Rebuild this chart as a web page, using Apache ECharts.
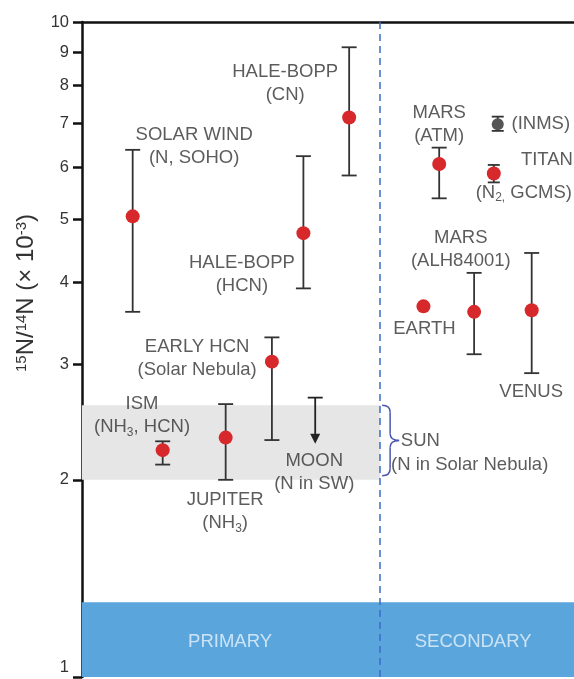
<!DOCTYPE html>
<html><head><meta charset="utf-8">
<script src="https://cdn.jsdelivr.net/npm/echarts@6/dist/echarts.min.js"></script>
<style>html,body{margin:0;padding:0;background:#fff}#c{width:574px;height:679px}</style>
</head><body><div id="c"></div>
<script>
const FONT = '"Liberation Sans", Arial, sans-serif';

// Red data points (15N/14N x 10^-3)
const pointNames = ['SOLAR WIND','ISM','JUPITER','EARLY HCN','HALE-BOPP (HCN)','HALE-BOPP (CN)','EARTH','MARS (ATM)','MARS (ALH84001)','VENUS'];
const pointX     = [10.3, 16.4, 29.2, 38.6, 45.0, 54.3, 69.4, 72.6, 79.7, 91.4];
const pointValue = [5.05, 2.22, 2.32, 3.03, 4.76, 7.15, 3.68, 6.07, 3.61, 3.63];
const errLow     = [3.61, 2.11, 2.00, 2.30, 3.92, 5.83, null, 5.38, 3.11, 2.91];
const errHigh    = [6.38, 2.29, 2.61, 3.30, 6.24, 9.15, null, 6.43, 4.14, 4.44];

// Titan: GCMS (red) and INMS (grey)
const titanGcmsX = [83.7];
const titanGcmsValue = [5.87];
const titanGcmsLow = [5.69];
const titanGcmsHigh = [6.05];
const titanInmsX = [84.5];
const titanInmsValue = [6.98];
const titanInmsLow = [6.82];
const titanInmsHigh = [7.17];

// Moon upper limit (arrow)
const moonX = [47.4];
const moonUpper = [2.67];
const moonArrowTo = [2.27];

// Regions
const sunRange = [2.0, 2.6];
const baseBand = [1.0, 1.3];
const dividerX = 60.6;
const braceX = 61.0;
const yTicks = [1, 2, 3, 4, 5, 6, 7, 8, 9, 10];

// Annotation texts: [text, x, y, align]
const annotations = [
  ['SOLAR WIND\n(N, SOHO)', 22.8, 6.45, 'center'],
  ['HALE-BOPP\n(CN)', 41.3, 8.05, 'center'],
  ['HALE-BOPP\n(HCN)', 32.5, 4.12, 'center'],
  ['EARLY HCN\n(Solar Nebula)', 23.4, 3.07, 'center'],
  ['ISM\n(NH{sub|3}, HCN)', 12.2, 2.51, 'center'],
  ['JUPITER\n(NH{sub|3})', 29.1, 1.79, 'center'],
  ['MOON\n(N in SW)', 47.2, 2.05, 'center'],
  ['SUN', 64.8, 2.29, 'left'],
  ['(N in Solar Nebula)', 62.8, 2.11, 'left'],
  ['MARS\n(ATM)', 72.6, 6.98, 'center'],
  ['(INMS)', 87.3, 6.98, 'left'],
  ['TITAN', 94.5, 6.15, 'center'],
  ['(N{sub|2,} GCMS)', 89.8, 5.49, 'center'],
  ['MARS\n(ALH84001)', 77.0, 4.50, 'center'],
  ['EARTH', 69.6, 3.40, 'center'],
  ['VENUS', 91.3, 2.72, 'center']
];
const bandLabels = [['PRIMARY', 30.1, 1.13], ['SECONDARY', 79.5, 1.13]];

const TXT = '#333';
const RED = '#d7282c';
const sub = { fontSize: 12, fontFamily: FONT, color: TXT, verticalAlign: 'bottom', lineHeight: 23 };

function makeErrRender(capHalf, lw) {
  return function (params, api) {
    const x = api.value(0), lo = api.value(1), hi = api.value(2);
    const pLo = api.coord([x, lo]), pHi = api.coord([x, hi]);
    const st = { stroke: '#333', lineWidth: lw };
    return { type: 'group', children: [
      { type: 'line', shape: { x1: pLo[0], y1: pLo[1], x2: pHi[0], y2: pHi[1] }, style: st },
      { type: 'line', shape: { x1: pLo[0] - capHalf, y1: pLo[1], x2: pLo[0] + capHalf, y2: pLo[1] }, style: st },
      { type: 'line', shape: { x1: pHi[0] - capHalf, y1: pHi[1], x2: pHi[0] + capHalf, y2: pHi[1] }, style: st }
    ]};
  };
}

function moonRender(params, api) {
  const x = api.value(0), up = api.value(1), to = api.value(2);
  const pUp = api.coord([x, up]), pTo = api.coord([x, to]);
  const w = 7.5;
  const st = { stroke: '#222', lineWidth: 1.8 };
  return { type: 'group', children: [
    { type: 'line', shape: { x1: pUp[0], y1: pUp[1], x2: pTo[0], y2: pTo[1] - 8 }, style: st },
    { type: 'line', shape: { x1: pUp[0] - w, y1: pUp[1], x2: pUp[0] + w, y2: pUp[1] }, style: st },
    { type: 'polygon', shape: { points: [[pTo[0] - 5, pTo[1] - 10], [pTo[0] + 5, pTo[1] - 10], [pTo[0], pTo[1]]] }, style: { fill: '#222' } }
  ]};
}

function braceRender(params, api) {
  const x = api.value(0), lo = api.value(1), hi = api.value(2);
  const pLo = api.coord([x, lo]), pHi = api.coord([x, hi]);
  const xL = pLo[0], xM = xL + 8, xR = xL + 17;
  const yT = pHi[1], yB = pLo[1] - 4, yM = (yT + yB) / 2, r = 7;
  const st = { stroke: '#4a56b0', lineWidth: 1.5, fill: 'none' };
  return { type: 'group', children: [
    { type: 'bezierCurve', shape: { x1: xL, y1: yT, cpx1: xM, cpy1: yT, x2: xM, y2: yT + r }, style: st },
    { type: 'line', shape: { x1: xM, y1: yT + r, x2: xM, y2: yM - r }, style: st },
    { type: 'bezierCurve', shape: { x1: xM, y1: yM - r, cpx1: xM, cpy1: yM, x2: xR, y2: yM }, style: st },
    { type: 'bezierCurve', shape: { x1: xR, y1: yM, cpx1: xM, cpy1: yM, x2: xM, y2: yM + r }, style: st },
    { type: 'line', shape: { x1: xM, y1: yM + r, x2: xM, y2: yB - r }, style: st },
    { type: 'bezierCurve', shape: { x1: xM, y1: yB - r, cpx1: xM, cpy1: yB, x2: xL, y2: yB }, style: st }
  ]};
}

const errData = [];
pointX.forEach((x, i) => { if (errLow[i] != null) errData.push([x, errLow[i], errHigh[i]]); });
const titanErrData = [];
titanGcmsX.forEach((x, i) => titanErrData.push([x, titanGcmsLow[i], titanGcmsHigh[i]]));
titanInmsX.forEach((x, i) => titanErrData.push([x, titanInmsLow[i], titanInmsHigh[i]]));

const annData = annotations.map(a => ({
  value: [a[1], a[2]],
  label: {
    show: true,
    formatter: a[0],
    position: a[3] === 'left' ? 'right' : 'inside',
    distance: 0,
    align: a[3] === 'left' ? 'left' : 'center',
    verticalAlign: 'middle'
  }
}));

const option = {
  animation: false,
  backgroundColor: '#fff',
  grid: { left: 82, right: 0, top: 22, bottom: 2, containLabel: false },
  xAxis: {
    type: 'value', min: 0, max: 100, position: 'top',
    axisLine: { show: true, onZero: false, lineStyle: { color: '#111', width: 2.5 } },
    axisTick: { show: false }, axisLabel: { show: false }, splitLine: { show: false }
  },
  yAxis: {
    type: 'log', logBase: 10, min: 1, max: 10,
    axisLine: { show: true, lineStyle: { color: '#111', width: 2.5 } },
    axisTick: { show: true, inside: false, length: 9, customValues: yTicks, lineStyle: { color: '#111', width: 2.5 } },
    axisLabel: {
      customValues: yTicks, fontSize: 16.5, fontFamily: FONT, color: TXT, margin: 13,
      formatter: v => (Math.abs(v - 1) < 1e-9 ? '{a|1}' : String(Math.round(v))),
      rich: { a: { fontSize: 16.5, fontFamily: FONT, color: TXT, padding: [0, 0, 20, 0] } }
    },
    splitLine: { show: false }
  },
  graphic: [{
    type: 'text', x: 26, y: 293, rotation: Math.PI / 2,
    style: {
      text: '{s|15}N/{s|14}N (× 10{s|-3})',
      fontSize: 24, fontFamily: FONT, fill: TXT, align: 'center', verticalAlign: 'middle',
      rich: { s: { fontSize: 15, fontFamily: FONT, fill: TXT, verticalAlign: 'top' } }
    }
  }],
  series: [
    {
      type: 'line', data: [], silent: true, z: 1,
      markArea: {
        silent: true,
        data: [
          [{ xAxis: 0, yAxis: sunRange[0], itemStyle: { color: '#e6e6e6' } }, { xAxis: dividerX, yAxis: sunRange[1] }],
          [{ xAxis: 0, yAxis: baseBand[0], itemStyle: { color: '#5aa6dc' } }, { xAxis: 100, yAxis: baseBand[1] }]
        ]
      }
    },
    {
      type: 'line', data: [], silent: true, z: 2,
      markLine: {
        silent: true, symbol: 'none', label: { show: false },
        lineStyle: { color: '#3d6cc8', width: 1.5, type: [7, 5] },
        data: [{ xAxis: dividerX }]
      }
    },
    {
      type: 'scatter', z: 3, symbolSize: 0, silent: true,
      data: bandLabels.map(b => ({ value: [b[1], b[2]] })),
      label: { show: true, position: 'inside', formatter: p => bandLabels[p.dataIndex][0], fontSize: 18.5, fontFamily: FONT, color: '#e8f3fb' }
    },
    { type: 'custom', z: 4, renderItem: makeErrRender(7.5, 1.8), data: errData, silent: true },
    { type: 'custom', z: 4, renderItem: makeErrRender(6, 1.8), data: titanErrData, silent: true },
    { type: 'custom', z: 4, renderItem: moonRender, data: moonX.map((x, i) => [x, moonUpper[i], moonArrowTo[i]]), silent: true },
    { type: 'custom', z: 4, renderItem: braceRender, data: [[braceX, sunRange[0], sunRange[1]]], silent: true },
    {
      type: 'scatter', z: 5, symbolSize: 14, silent: true,
      itemStyle: { color: RED, opacity: 1 },
      data: pointX.map((x, i) => [x, pointValue[i]])
    },
    {
      type: 'scatter', z: 5, symbolSize: 14, silent: true,
      itemStyle: { color: RED, opacity: 1 },
      data: titanGcmsX.map((x, i) => [x, titanGcmsValue[i]])
    },
    {
      type: 'scatter', z: 5, symbolSize: 12, silent: true,
      itemStyle: { color: '#555', opacity: 1 },
      data: titanInmsX.map((x, i) => [x, titanInmsValue[i]])
    },
    {
      type: 'scatter', z: 6, symbolSize: 0, silent: true,
      label: { fontSize: 18.5, fontFamily: FONT, color: TXT, lineHeight: 23, rich: { sub: sub } },
      data: annData
    }
  ]
};

const chart = echarts.init(document.getElementById('c'), null, { renderer: 'canvas' });
chart.setOption(option);
</script>
</body></html>
